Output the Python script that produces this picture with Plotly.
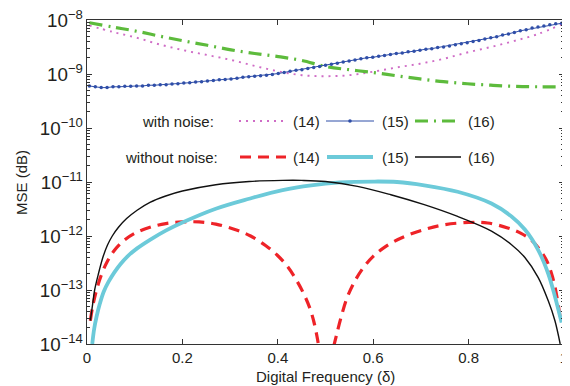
import numpy as np
import plotly.graph_objects as go

# ---------------- data ----------------
# with noise, eq. (15): blue line with dots
noise15_mse = [
    6.0e-10, 5.8e-10, 5.6e-10, 5.6e-10, 5.8e-10, 5.8e-10, 5.9e-10, 5.9e-10, 6.0e-10, 6.0e-10,
    6.2e-10, 6.2e-10, 6.3e-10, 6.3e-10, 6.5e-10, 6.6e-10, 6.8e-10, 6.9e-10, 7.1e-10, 7.2e-10,
    7.4e-10, 7.6e-10, 7.8e-10, 7.9e-10, 8.1e-10, 8.3e-10, 8.7e-10, 8.9e-10, 9.1e-10, 9.3e-10,
    9.5e-10, 9.8e-10, 1.02e-9, 1.07e-9, 1.12e-9, 1.17e-9, 1.20e-9, 1.26e-9, 1.32e-9, 1.38e-9,
    1.45e-9, 1.51e-9, 1.58e-9, 1.66e-9, 1.74e-9, 1.82e-9, 1.91e-9, 2.00e-9, 2.04e-9, 2.14e-9,
    2.19e-9, 2.29e-9, 2.40e-9, 2.45e-9, 2.57e-9, 2.63e-9, 2.75e-9, 2.88e-9, 2.95e-9, 3.09e-9,
    3.16e-9, 3.31e-9, 3.47e-9, 3.63e-9, 3.80e-9, 3.98e-9, 4.17e-9, 4.47e-9, 4.68e-9, 4.90e-9,
    5.25e-9, 5.50e-9, 5.89e-9, 6.31e-9, 6.61e-9, 7.08e-9, 7.41e-9, 7.76e-9, 8.13e-9, 8.51e-9,
    8.71e-9,
]
noise15_delta = np.linspace(0.005, 0.995, len(noise15_mse))

# with noise, eq. (16): green dash-dot
noise16_mse = [
    8.9e-9, 7.4e-9, 6.2e-9, 5.0e-9, 4.1e-9, 3.4e-9, 2.8e-9, 2.4e-9, 2.1e-9, 1.78e-9,
    1.38e-9, 1.20e-9, 1.07e-9, 9.3e-10, 8.1e-10, 7.2e-10, 6.6e-10, 6.2e-10, 5.9e-10, 5.8e-10,
    5.8e-10,
]
noise16_delta = np.linspace(0.005, 0.995, len(noise16_mse))

# with noise, eq. (14): magenta dotted
noise14_mse = [
    7.9e-9, 6.0e-9, 4.7e-9, 3.5e-9, 2.75e-9, 2.24e-9, 1.82e-9, 1.41e-9, 1.12e-9, 9.5e-10,
    9.1e-10, 9.5e-10, 1.10e-9, 1.32e-9, 1.55e-9, 1.91e-9, 2.5e-9, 3.16e-9, 4.1e-9, 5.5e-9,
    8.3e-9,
]
noise14_delta = np.linspace(0.005, 0.995, len(noise14_mse))

# without noise, eq. (14): red dashed (two lobes, gap near 0.5)
clean14_delta = [0.007, 0.012, 0.02, 0.03, 0.042, 0.056, 0.075, 0.1, 0.132, 0.165, 0.2,
                 0.235, 0.27, 0.31, 0.343, 0.375, 0.399, 0.42, 0.438, 0.455, 0.468, 0.476,
                 0.482, 0.486, 0.5,
                 0.517, 0.524, 0.533, 0.545, 0.56, 0.578, 0.6, 0.625, 0.66, 0.707, 0.75,
                 0.8, 0.84, 0.882, 0.91, 0.932, 0.95, 0.965, 0.976, 0.985, 0.992]
clean14_mse = [2.7e-14, 5.0e-14, 1.0e-13, 1.9e-13, 3.3e-13, 5.2e-13, 7.9e-13, 1.12e-12,
               1.45e-12, 1.70e-12, 1.82e-12, 1.82e-12, 1.66e-12, 1.32e-12, 1.0e-12, 6.6e-13,
               4.4e-13, 2.75e-13, 1.58e-13, 8.3e-14, 4.4e-14, 2.5e-14, 1.41e-14, 8.9e-15,
               None,
               8.9e-15, 1.58e-14, 3.2e-14, 7.1e-14, 1.38e-13, 2.5e-13, 4.2e-13, 6.3e-13,
               9.3e-13, 1.32e-12, 1.62e-12, 1.78e-12, 1.74e-12, 1.41e-12, 1.12e-12, 8.3e-13,
               5.5e-13, 3.3e-13, 1.74e-13, 7.6e-14, 3.1e-14]

# without noise, eq. (15): cyan thick
clean15_delta = [0.011, 0.015, 0.02, 0.027, 0.035, 0.045, 0.057, 0.07, 0.085, 0.105, 0.132,
                 0.165, 0.2, 0.27, 0.34, 0.41, 0.47, 0.53, 0.6, 0.65, 0.707, 0.777, 0.848,
                 0.89, 0.918, 0.946, 0.967, 0.981, 0.995]
clean15_mse = [1.0e-14, 1.9e-14, 3.2e-14, 5.6e-14, 9.3e-14, 1.41e-13, 2.1e-13, 3.0e-13,
               4.2e-13, 5.9e-13, 8.5e-13, 1.26e-12, 1.78e-12, 3.2e-12, 4.9e-12, 7.1e-12,
               8.7e-12, 9.8e-12, 1.02e-11, 1.0e-11, 8.7e-12, 6.6e-12, 4.0e-12, 2.3e-12,
               1.32e-12, 5.5e-13, 2.0e-13, 7.6e-14, 2.5e-14]

# without noise, eq. (16): black thin
clean16_delta = [0.007, 0.012, 0.016, 0.024, 0.034, 0.043, 0.053, 0.066, 0.083, 0.105,
                 0.132, 0.165, 0.2, 0.27, 0.34, 0.41, 0.45, 0.5, 0.567, 0.637, 0.707,
                 0.777, 0.848, 0.89, 0.918, 0.946, 0.967, 0.981, 0.992]
clean16_mse = [2.7e-14, 5.6e-14, 1.0e-13, 2.0e-13, 4.2e-13, 6.8e-13, 1.0e-12, 1.45e-12,
               2.1e-12, 3.0e-12, 4.2e-12, 5.5e-12, 6.8e-12, 8.9e-12, 1.02e-11, 1.07e-11,
               1.07e-11, 1.02e-11, 8.3e-12, 5.8e-12, 3.8e-12, 2.3e-12, 1.23e-12, 6.9e-13,
               4.0e-13, 1.7e-13, 6.3e-14, 2.7e-14, 1.0e-14]

eq_labels = ["(14)", "(15)", "(16)"]
row_labels = ["with noise:", "without noise:"]
x_title = "Digital Frequency (δ)"
y_title = "MSE (dB)"

# ---------------- styles ----------------
MAGENTA = "#cf6cc6"
BLUE = "#2f4ea8"
GREEN = "#5dbb3c"
RED = "#ee2328"
CYAN = "#6ccad9"
BLACK = "#111111"
TXT = "#231f20"
FONT = "Liberation Sans, Arial, Helvetica, sans-serif"

fig = go.Figure()
fig.add_trace(go.Scatter(x=noise14_delta, y=noise14_mse, mode="lines",
                         line=dict(color=MAGENTA, width=1.9, dash="2px,5px"),
                         line_shape="spline", showlegend=False))
fig.add_trace(go.Scatter(x=noise16_delta, y=noise16_mse, mode="lines",
                         line=dict(color=GREEN, width=3.2, dash="13px,6px,2px,6px"),
                         line_shape="spline", showlegend=False))
fig.add_trace(go.Scatter(x=noise15_delta, y=noise15_mse, mode="lines+markers",
                         line=dict(color=BLUE, width=1),
                         marker=dict(color=BLUE, size=3.5), showlegend=False))
fig.add_trace(go.Scatter(x=clean14_delta, y=clean14_mse, mode="lines", connectgaps=False,
                         line=dict(color=RED, width=3.2, dash="11px,7px"),
                         line_shape="spline", showlegend=False))
fig.add_trace(go.Scatter(x=clean15_delta, y=clean15_mse, mode="lines",
                         line=dict(color=CYAN, width=3.8),
                         line_shape="spline", showlegend=False))
fig.add_trace(go.Scatter(x=clean16_delta, y=clean16_mse, mode="lines",
                         line=dict(color=BLACK, width=1.4),
                         line_shape="spline", showlegend=False))

# ---------------- layout ----------------
L, R, T, B = 79, 14, 12, 50
W, H = 570, 386
PW, PH = W - L - R, H - T - B


def px_x(p):
    return (p - L) / PW


def px_y(p):
    return (H - B - p) / PH


shapes = []
annotations = []
rows = [
    (113, [(231, 275, MAGENTA, 1.9, "2px,5px"), (318, 366, BLUE, 1, "solid"),
           (407, 452, GREEN, 3.2, "13px,6px,2px,6px")], 208),
    (149, [(232, 278, RED, 3.2, "11px,7px"), (319, 365, CYAN, 3.8, "solid"),
           (407, 453, BLACK, 1.4, "solid")], 212),
]
text_x = [283, 372, 458]
for ri, (ypx, samples, rx) in enumerate(rows):
    yp = px_y(ypx)
    annotations.append(dict(x=px_x(rx), y=yp, xref="paper", yref="paper", text=row_labels[ri],
                            showarrow=False, xanchor="right", yanchor="middle",
                            font=dict(size=15, color=TXT, family=FONT)))
    for si, (x0, x1, col, w, dash) in enumerate(samples):
        shapes.append(dict(type="line", xref="paper", yref="paper", x0=px_x(x0), x1=px_x(x1),
                           y0=yp, y1=yp, line=dict(color=col, width=w, dash=dash)))
        annotations.append(dict(x=px_x(text_x[si]), y=yp, xref="paper", yref="paper",
                                text=eq_labels[si], showarrow=False, xanchor="left",
                                yanchor="middle", font=dict(size=15, color=TXT, family=FONT)))
# dot marker on the blue legend sample
cx, cy = px_x(342), px_y(113)
shapes.append(dict(type="circle", xref="paper", yref="paper",
                   x0=cx - 1.8 / PW, x1=cx + 1.8 / PW, y0=cy - 1.8 / PH, y1=cy + 1.8 / PH,
                   fillcolor=BLUE, line=dict(color=BLUE, width=0)))

# axis titles
annotations.append(dict(x=0.5, y=px_y(368), xref="paper", yref="paper", text=x_title,
                        showarrow=False, xanchor="center", yanchor="middle",
                        font=dict(size=15, color=TXT, family=FONT)))
annotations.append(dict(x=px_x(13), y=px_y(175), xref="paper", yref="paper", text=y_title,
                        showarrow=False, xanchor="center", yanchor="middle", textangle=-90,
                        font=dict(size=15, color=TXT, family=FONT)))

axis_common = dict(showline=True, linecolor="#333333", linewidth=1.2, mirror="allticks",
                   ticks="inside", ticklen=5, tickcolor="#333333", showgrid=False,
                   zeroline=False, automargin=False, ticklabeloverflow="allow",
                   tickfont=dict(size=15, color=TXT, family=FONT))

fig.update_layout(
    width=W, height=H,
    margin=dict(l=L, r=R, t=T, b=B),
    paper_bgcolor="white", plot_bgcolor="white",
    font=dict(family=FONT, color=TXT, size=15),
    shapes=shapes, annotations=annotations,
    xaxis=dict(range=[0, 1], dtick=0.2, tick0=0, **axis_common),
    yaxis=dict(type="log", range=[-14, -8], dtick=1, exponentformat="power",
               showexponent="all",
               minor=dict(ticks="inside", ticklen=3, dtick="D1", tickcolor="#333333",
                          showgrid=False),
               **axis_common),
)

fig.write_html("out.html")
